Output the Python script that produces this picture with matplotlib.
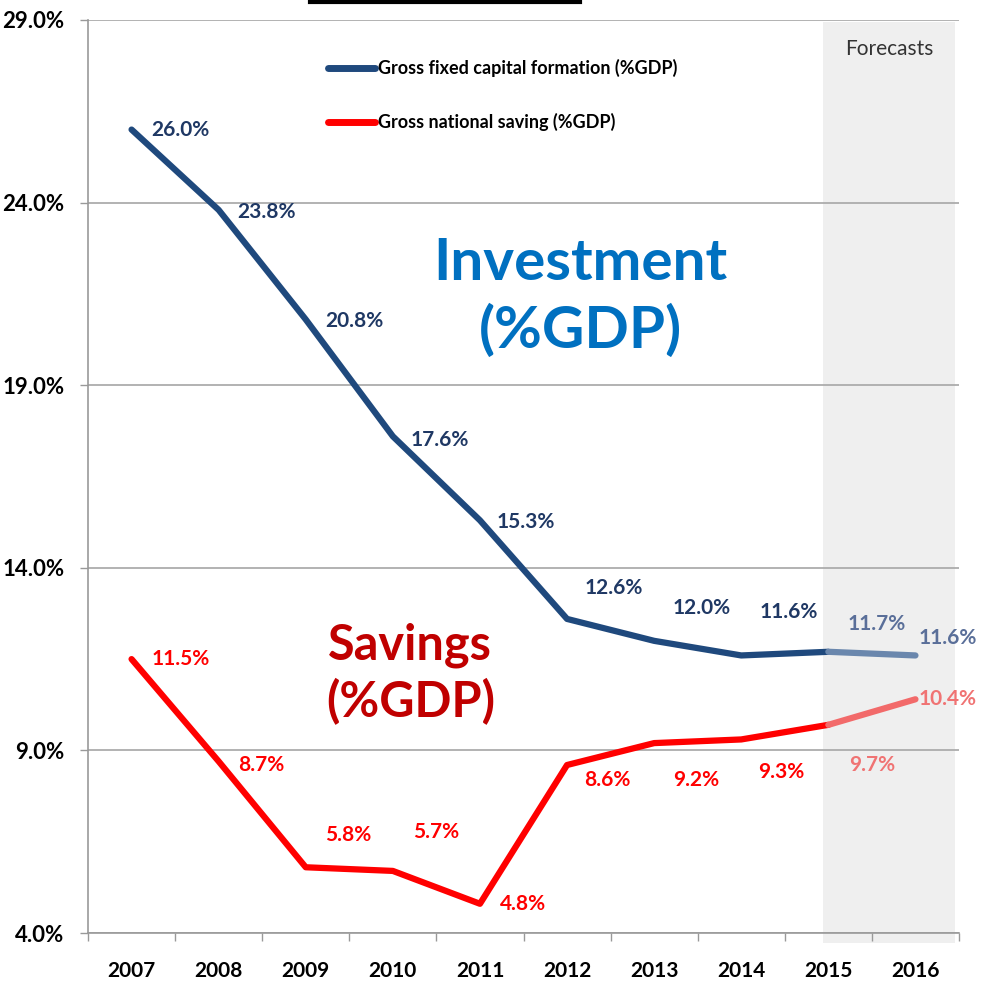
import numpy as np
import matplotlib.pyplot as plt
from matplotlib.lines import Line2D
from matplotlib.patches import Rectangle

plt.rcParams['font.family'] = ['Lato', 'DejaVu Sans']

# Data
years = ['2007', '2008', '2009', '2010', '2011', '2012', '2013', '2014', '2015', '2016']
investment = [26.0, 23.8, 20.8, 17.6, 15.3, 12.6, 12.0, 11.6, 11.7, 11.6]
savings = [11.5, 8.7, 5.8, 5.7, 4.8, 8.6, 9.2, 9.3, 9.7, 10.4]
forecast_from = 8  # index of 2015

# label offsets in pixels (dx from point to label's left edge, dy up)
inv_offsets = [(20, 0), (19, -2), (20, -2), (18, -4), (17, -2),
               (18, 31), (18, 33), (18, 43), (19, 28), (3, 17)]
sav_offsets = [(20, 0), (19, -4), (19, 32), (20, 39), (20, 0),
               (17, -15), (19, -37), (17, -33), (21, -40), (3, 0)]

blue = '#1f497d'
blue_light = '#6a87ad'
blue_text = '#1f3864'
blue_text_light = '#5a6f99'
red = '#ff0000'
red_light = '#f26a6a'
red_text_light = '#f07373'

fig = plt.figure(figsize=(9.81, 9.81), dpi=100)
ax = fig.add_axes([88 / 981, 48 / 981, 871 / 981, 913 / 981])

x = np.arange(len(years)) + 0.5
f = forecast_from

# forecast shading
ax.add_patch(Rectangle((8.44, 3.73), 1.51, 25.22, facecolor='#efefef',
                       edgecolor='none', zorder=0, clip_on=False))
ax.text(9.2, 28.2, 'Forecasts', ha='center', va='center', fontsize=15,
        color='#333333')

# lines
ax.plot(x[:f + 1], investment[:f + 1], color=blue, lw=4.5, solid_capstyle='round',
        solid_joinstyle='round', zorder=3, label='Gross fixed capital formation (%GDP)')
ax.plot(x[f:], investment[f:], color=blue_light, lw=4.5, solid_capstyle='round', zorder=3)
ax.plot(x[:f + 1], savings[:f + 1], color=red, lw=4.5, solid_capstyle='round',
        solid_joinstyle='round', zorder=3, label='Gross national saving (%GDP)')
ax.plot(x[f:], savings[f:], color=red_light, lw=4.5, solid_capstyle='round', zorder=3)

# data labels
for i, (v, (dx, dy)) in enumerate(zip(investment, inv_offsets)):
    c = blue_text_light if i >= f else blue_text
    ax.annotate(f'{v:.1f}%', (x[i], v), xytext=(dx, dy), textcoords='offset pixels',
                ha='left', va='center', fontsize=15, fontweight='bold', color=c, zorder=4)
for i, (v, (dx, dy)) in enumerate(zip(savings, sav_offsets)):
    c = red_text_light if i >= f else red
    ax.annotate(f'{v:.1f}%', (x[i], v), xytext=(dx, dy), textcoords='offset pixels',
                ha='left', va='center', fontsize=15, fontweight='bold', color=c, zorder=4)

# big annotations
ax.text(5.65, 21.4, 'Investment\n(%GDP)', ha='center', va='center', fontsize=42,
        fontweight='bold', color='#0070c0', linespacing=1.3)
ax.text(3.7, 11.1, 'Savings\n(%GDP)', ha='center', va='center', fontsize=35,
        fontweight='bold', color='#c00000', linespacing=1.25)

# axes
ax.set_xlim(0, 10)
ax.set_ylim(4, 29)
ax.set_yticks(np.arange(4, 30, 5))
ax.set_yticklabels([f'{t:.1f}%' for t in np.arange(4, 30, 5)])
ax.set_xticks(np.arange(0, 11))
ax.set_xticklabels([])
ax.set_xticks(x, minor=True)
ax.set_xticklabels(years, minor=True)
ax.tick_params(axis='x', which='major', direction='out', length=6, width=1, color='#999999')
ax.tick_params(axis='x', which='minor', length=0, pad=20, labelsize=15)
ax.tick_params(axis='y', direction='out', length=6, width=1, color='#999999', pad=11, labelsize=16)
for lab in ax.get_xticklabels(minor=True) + ax.get_yticklabels():
    lab.set_fontweight('bold')

ax.grid(axis='y', color='#a6a6a6', lw=1.2, zorder=1)
ax.set_axisbelow(True)
for s in ['top', 'right']:
    ax.spines[s].set_visible(False)
ax.spines['left'].set_color('#999999')
ax.spines['bottom'].set_color('#999999')
ax.spines['left'].set_linewidth(1.2)
ax.spines['bottom'].set_linewidth(1.2)

leg = ax.legend(loc='upper left', bbox_to_anchor=(0.257, 0.975), frameon=False,
                handlelength=2.6, handletextpad=0.15, labelspacing=2.0,
                prop={'size': 13, 'weight': 'bold'})
for h in leg.get_lines():
    h.set_linewidth(5)

# leftover title underline at the top
fig.add_artist(Line2D([310 / 981, 580 / 981], [1 - 2 / 981] * 2, color='black', lw=3))

fig.savefig('out.png', dpi=100)
